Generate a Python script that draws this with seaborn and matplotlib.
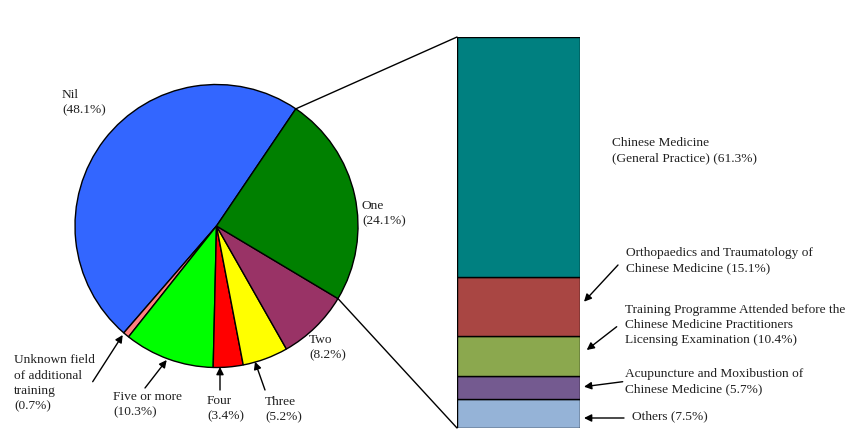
import numpy as np
import matplotlib
matplotlib.use("Agg")
import matplotlib.pyplot as plt
from matplotlib.patches import ConnectionPatch
import seaborn as sns

# pie: number of additional training fields
pie_labels = ["Nil\n(48.1%)", "Unknown field\nof additional\ntraining\n(0.7%)",
              "Five or more\n(10.3%)", "Four\n(3.4%)", "Three\n(5.2%)",
              "Two\n(8.2%)", "One\n(24.1%)"]
pie_values = [48.1, 0.7, 10.3, 3.4, 5.2, 8.2, 24.1]
pie_colors = ["#3366FF", "#FF8080", "#00FF00", "#FF0000", "#FFFF00",
              "#993366", "#008000"]

# bar: field of training among those with one field
bar_labels = ["Others (7.5%)",
              "Acupuncture and Moxibustion of\nChinese Medicine (5.7%)",
              "Training Programme Attended before the\nChinese Medicine Practitioners\nLicensing Examination (10.4%)",
              "Orthopaedics and Traumatology of\nChinese Medicine (15.1%)",
              "Chinese Medicine\n(General Practice) (61.3%)"]
bar_values = [7.5, 5.7, 10.4, 15.1, 61.3]
bar_colors = ["#95B3D7", "#745A90", "#8BA84E", "#A94643", "#008080"]

sns.set_theme(style="white")
plt.rcParams["font.family"] = ["Liberation Serif", "DejaVu Serif"]

W, H = 858, 448
fig = plt.figure(figsize=(W / 100, H / 100), dpi=100)
ax = fig.add_axes([0, 0, 1, 1])
ax.set_xlim(0, W)
ax.set_ylim(0, H)
ax.set_aspect("equal")
ax.axis("off")

def py(y):
    return H - y

wedges, _ = ax.pie(pie_values, colors=pie_colors, startangle=55.9,
                   counterclock=True, center=(216.5, py(226)), radius=141.5,
                   wedgeprops=dict(edgecolor="black", linewidth=1))
ax.set_xlim(0, W)
ax.set_ylim(0, H)

fs = 9.6
ls = 1.38
lbl_pos = [(62, 103), (14, 383.5), (113, 404.5), (207, 408.5), (265, 409.5),
           (309, 347.5), (362, 213.5)]
for txt, (x, y) in zip(pie_labels, lbl_pos):
    ax.text(x, py(y), txt, fontsize=fs, va="center", ha="left",
            linespacing=ls, color="#202020")

arrow = dict(arrowstyle="-|>", color="black", lw=1, mutation_scale=11,
             shrinkA=0, shrinkB=0)
pie_arrows = [((92.7, 381.7), (122.7, 335)), ((145, 388), (166.7, 360)),
              ((220, 390), (220, 367)), ((265, 390), (255, 361.7))]
for (tx, ty), (hx, hy) in pie_arrows:
    ax.annotate("", xy=(hx, py(hy)), xytext=(tx, py(ty)), arrowprops=arrow)

# stacked bar
bx = fig.add_axes([457 / W, (H - 428) / H, 123 / W, 391 / H])
bottoms = np.concatenate([[0], np.cumsum(bar_values)[:-1]])
bx.bar(0, bar_values, bottom=bottoms, width=1, color=bar_colors,
       edgecolor="black", linewidth=1)
bx.set_xlim(-0.5, 0.5)
bx.set_ylim(0, 100)
bx.axis("off")

bar_lbl_pos = [(632, 416), (625, 382), (625, 325), (626, 261), (612, 150.5)]
for txt, (x, y) in zip(bar_labels, bar_lbl_pos):
    ax.text(x, py(y), txt, fontsize=fs, va="center", ha="left",
            linespacing=ls, color="#202020")

bar_arrows = [((624, 418), (584, 418)), ((622.7, 381.7), (584, 386.7)),
              ((616.7, 326.7), (586.7, 350)), ((618, 265), (584, 301.7))]
for (tx, ty), (hx, hy) in bar_arrows:
    ax.annotate("", xy=(hx, py(hy)), xytext=(tx, py(ty)), arrowprops=arrow)

# connector lines from the "One" wedge edges to the bar
one = wedges[-1]
cx, cy = one.center
r = one.r
for ang, yb in [(one.theta2, 100), (one.theta1, 0)]:
    pa = (cx + r * np.cos(np.radians(ang)), cy + r * np.sin(np.radians(ang)))
    con = ConnectionPatch(xyA=pa, coordsA=ax.transData, xyB=(-0.5, yb),
                          coordsB=bx.transData, color="black", lw=1)
    fig.add_artist(con)

fig.savefig("out.png", dpi=100)
